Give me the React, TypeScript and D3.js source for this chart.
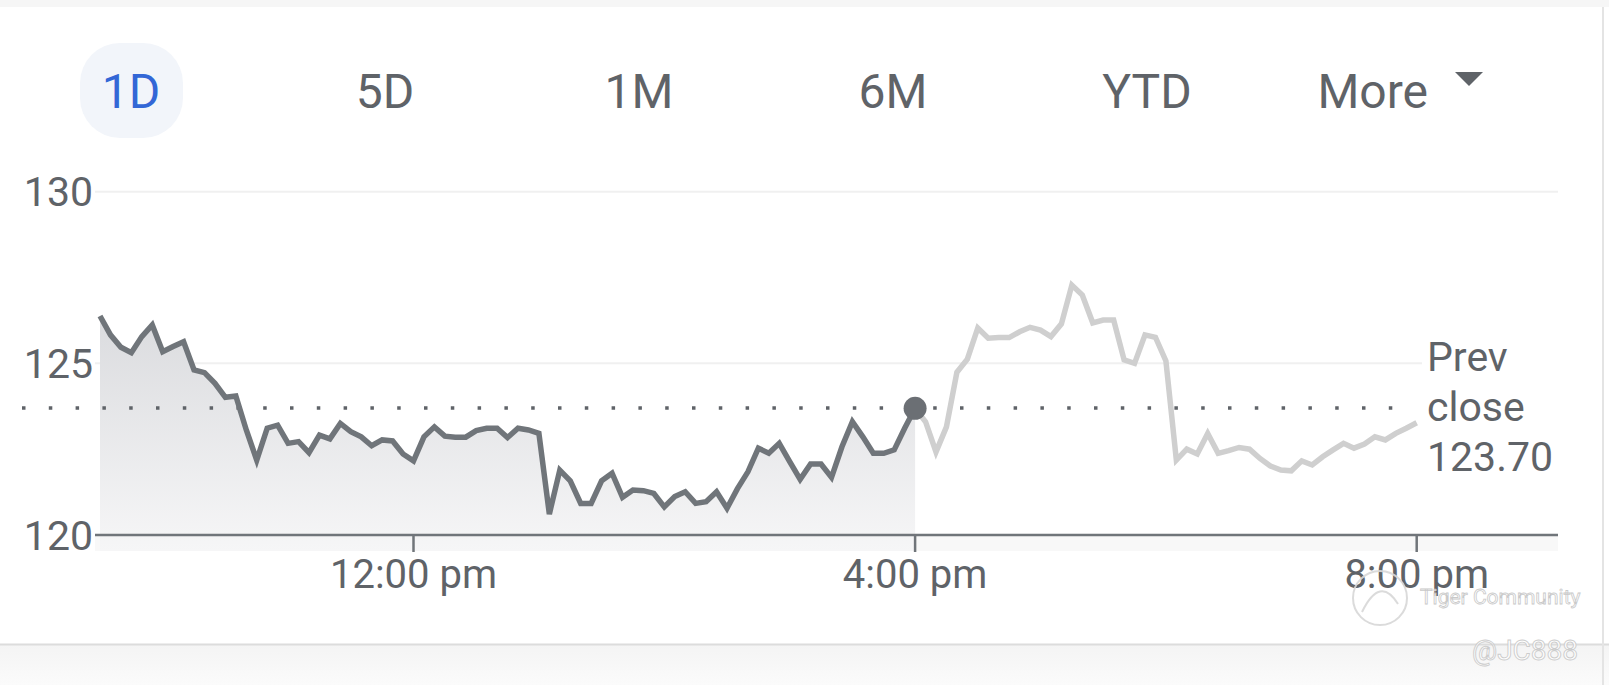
import React from "react";
import * as d3 from "d3";

// ---------- data ----------
const tabs = ["1D", "5D", "1M", "6M", "YTD", "More"];
const selectedTab = "1D";
const yTicks = [120, 125, 130];
const xTickTimes = ["12:00", "16:00", "20:00"];
const xTickLabels = ["12:00 pm", "4:00 pm", "8:00 pm"];
const sessionStart = "09:30";
const chartEnd = "20:00";
const stepMinutes = 5;
const prevClose = 123.7;
const prevCloseLines = ["Prev", "close", "123.70"];

// regular session, 9:30 → 16:00, every 5 minutes
const regularPrices = [
  126.38, 125.83, 125.47, 125.31, 125.78, 126.12, 125.34, 125.49, 125.63, 124.81,
  124.73, 124.42, 124.01, 124.05, 123.06, 122.18, 123.11, 123.2, 122.67, 122.72,
  122.4, 122.91, 122.8, 123.25, 123.01, 122.86, 122.6, 122.77, 122.74, 122.36,
  122.16, 122.86, 123.15, 122.88, 122.85, 122.85, 123.04, 123.11, 123.11, 122.84,
  123.11, 123.06, 122.96, 120.61, 121.89, 121.58, 120.92, 120.92, 121.58, 121.8,
  121.1, 121.31, 121.29, 121.21, 120.82, 121.12, 121.26, 120.92, 120.97, 121.26,
  120.78, 121.35, 121.84, 122.53, 122.38, 122.67, 122.14, 121.62, 122.07, 122.07,
  121.68, 122.57, 123.3, 122.86, 122.38, 122.38, 122.48, 123.11, 123.69,
];

// after hours, 16:05 → 20:00, every 5 minutes
const afterHoursPrices = [
  123.3, 122.42, 123.15, 124.74, 125.12, 126.03, 125.73, 125.75, 125.75, 125.92,
  126.05, 125.97, 125.78, 126.15, 127.28, 126.99, 126.18, 126.26, 126.26, 125.1,
  125.0, 125.83, 125.76, 125.07, 122.18, 122.5, 122.36, 122.96, 122.38, 122.46,
  122.55, 122.5, 122.23, 122.01, 121.89, 121.87, 122.16, 122.04, 122.28, 122.48,
  122.67, 122.53, 122.65, 122.86, 122.77, 122.96, 123.11, 123.27,
];

// ---------- helpers ----------
const toDate = (hm: string) => {
  const [h, m] = hm.split(":").map(Number);
  return new Date(2023, 0, 3, h, m);
};
const startDate = toDate(sessionStart);
const timeAt = (i: number) => new Date(startDate.getTime() + i * stepMinutes * 60000);

type Pt = { t: Date; v: number };
const regular: Pt[] = regularPrices.map((v, i) => ({ t: timeAt(i), v }));
const after: Pt[] = [regular[regular.length - 1]].concat(
  afterHoursPrices.map((v, j) => ({ t: timeAt(regularPrices.length + j), v }))
);

const W = 1609;
const H = 685;
const FONT = "Roboto, 'Noto Sans', Arial, sans-serif";
const TEXT = "#5f6368";
const DARK = "#70757a";
const LIGHT = "#cfcfcf";

export default function App() {
  const x = d3.scaleTime().domain([startDate, toDate(chartEnd)]).range([100, 1416.7]);
  const y = d3.scaleLinear().domain([120, 130]).range([535, 191.7]);
  const axisLeft = 95;
  const axisRight = 1558;
  const fillBottom = 551;

  const line = d3
    .line<Pt>()
    .x((d) => x(d.t))
    .y((d) => y(d.v));
  const area = d3
    .area<Pt>()
    .x((d) => x(d.t))
    .y0(fillBottom)
    .y1((d) => y(d.v));

  const tabX = d3.scalePoint<string>().domain(tabs).range([131, 1401]);
  const last = regular[regular.length - 1];
  const pcY = y(prevClose);

  return (
    <svg
      width={W}
      height={H}
      style={{ position: "absolute", left: 0, top: 0, background: "#fff" }}
      fontFamily={FONT}
    >
      <defs>
        <linearGradient id="fillGrad" gradientUnits="userSpaceOnUse" x1="0" y1={y(126.5)} x2="0" y2={fillBottom}>
          <stop offset="0" stopColor="#dadbde" />
          <stop offset="1" stopColor="#f6f6f7" />
        </linearGradient>
        <linearGradient id="bottomGrad" x1="0" y1="0" x2="0" y2="1">
          <stop offset="0" stopColor="#f4f4f4" />
          <stop offset="1" stopColor="#fbfbfb" />
        </linearGradient>
      </defs>

      {/* frame */}
      <rect x={0} y={0} width={W} height={7} fill="#f6f6f6" />
      <rect x={0} y={645} width={W} height={H - 645} fill="url(#bottomGrad)" />
      <line x1={0} x2={W} y1={644.5} y2={644.5} stroke="#dcdcdc" strokeWidth={2} />
      <line x1={1603} x2={1603} y1={7} y2={H} stroke="#e4e4e4" strokeWidth={2} />

      {/* tabs */}
      <rect x={80} y={43} width={103} height={95} rx={40} fill="#f2f5fa" />
      {tabs.map((t) => {
        const cx = tabX(t)!;
        if (t === "More") {
          return (
            <g key={t}>
              <text x={cx + 27} y={108} textAnchor="end" fontSize={48} fill={TEXT}>
                {t}
              </text>
              <path d={`M${cx + 54},${72} L${cx + 82},${72} L${cx + 68},${86} Z`} fill={TEXT} />
            </g>
          );
        }
        return (
          <text
            key={t}
            x={cx}
            y={108}
            textAnchor="middle"
            fontSize={48}
            fill={t === selectedTab ? "#3367d6" : TEXT}
          >
            {t}
          </text>
        );
      })}

      {/* below-axis band */}
      <rect x={axisLeft} y={536} width={axisRight - axisLeft} height={fillBottom - 536} fill="#f8f8f8" />

      {/* gridlines */}
      {yTicks
        .filter((v) => v !== 120)
        .map((v) => (
          <line
            key={v}
            x1={axisLeft}
            x2={v === 125 ? 1422 : axisRight}
            y1={y(v)}
            y2={y(v)}
            stroke="#f0f0f0"
            strokeWidth={2}
          />
        ))}

      {/* area under regular session */}
      <path d={area(regular) || ""} fill="url(#fillGrad)" />

      {/* prev close dotted line */}
      <line
        x1={22}
        x2={1406}
        y1={pcY}
        y2={pcY}
        stroke="#5f6368"
        strokeWidth={3.5}
        strokeDasharray="3.5 23.3"
      />

      {/* axis */}
      <line x1={axisLeft} x2={axisRight} y1={y(120)} y2={y(120)} stroke={DARK} strokeWidth={2.5} />
      {xTickTimes.map((tm, i) => {
        const xx = x(toDate(tm));
        return (
          <g key={tm}>
            <line x1={xx} x2={xx} y1={y(120)} y2={y(120) + 17} stroke={DARK} strokeWidth={2.5} />
            <text x={xx} y={588} textAnchor="middle" fontSize={40} fill={TEXT}>
              {xTickLabels[i]}
            </text>
          </g>
        );
      })}

      {/* y labels */}
      {yTicks.map((v) => (
        <text key={v} x={93} y={y(v) + 14.5} textAnchor="end" fontSize={41} fill={TEXT}>
          {v}
        </text>
      ))}

      {/* lines */}
      <path d={line(after) || ""} fill="none" stroke={LIGHT} strokeWidth={5.5} />
      <path d={line(regular) || ""} fill="none" stroke={DARK} strokeWidth={5.5} />
      <circle cx={x(last.t)} cy={y(last.v)} r={11.5} fill="#6b6f74" />

      {/* prev close label */}
      {prevCloseLines.map((s, i) => (
        <text key={s} x={1427} y={pcY + 13.5 + (i - 1) * 50} fontSize={41} fill={TEXT}>
          {s}
        </text>
      ))}

      {/* watermark */}
      <g opacity={0.9}>
        <circle cx={1380} cy={598} r={27} fill="none" stroke="#d8d8d8" strokeWidth={2} />
        <path d="M1362,612 Q1380,575 1398,604" fill="none" stroke="#d8d8d8" strokeWidth={2} />
        <text x={1420} y={604} fontSize={21} fill="#fff" stroke="#c4c4c4" strokeWidth={0.8}>
          Tiger Community
        </text>
        <text x={1472} y={660} fontSize={28} fill="#fff" stroke="#c8c8c8" strokeWidth={0.9}>
          @JC888
        </text>
      </g>
    </svg>
  );
}
